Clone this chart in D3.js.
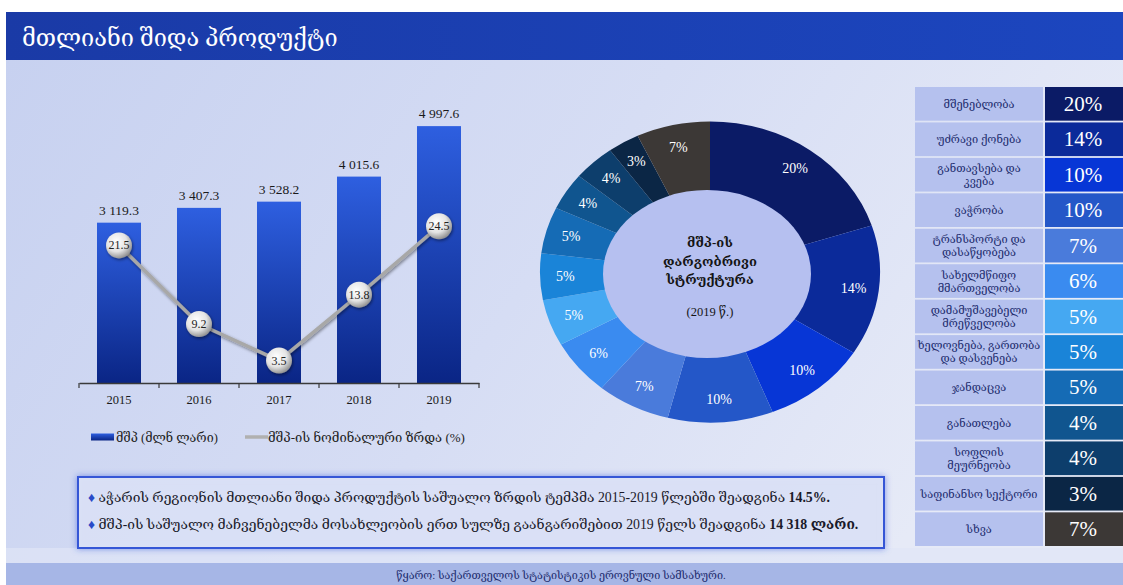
<!DOCTYPE html>
<html><head><meta charset="utf-8">
<script src="https://cdn.jsdelivr.net/npm/d3@7"></script>
<style>
html,body{margin:0;padding:0;background:#fff;}
svg{display:block;}
</style></head>
<body>
<script>
// ---- data ----
const title = "მთლიანი შიდა პროდუქტი";
const years = ["2015", "2016", "2017", "2018", "2019"];
const gdp = [3119.3, 3407.3, 3528.2, 4015.6, 4997.6];
const growth = [21.5, 9.2, 3.5, 13.8, 24.5];
const legendLabels = ["მშპ (მლნ ლარი)", "მშპ-ის ნომინალური ზრდა (%)"];
const sectors = [
  "მშენებლობა",
  "უძრავი ქონება",
  "განთავსება და\nკვება",
  "ვაჭრობა",
  "ტრანსპორტი და\nდასაწყობება",
  "სახელმწიფო\nმმართველობა",
  "დამამუშავებელი\nმრეწველობა",
  "ხელოვნება, გართობა\nდა დასვენება",
  "ჯანდაცვა",
  "განათლება",
  "სოფლის\nმეურნეობა",
  "საფინანსო სექტორი",
  "სხვა"
];
const shares = [20, 14, 10, 10, 7, 6, 5, 5, 5, 4, 4, 3, 7];
const donutTitle = ["მშპ-ის", "დარგობრივი", "სტრუქტურა"];
const donutYear = "(2019 წ.)";
const notes = [
  ["აჭარის რეგიონის მთლიანი შიდა პროდუქტის საშუალო ზრდის ტემპმა 2015-2019 წლებში შეადგინა ", "14.5%."],
  ["მშპ-ის საშუალო მაჩვენებელმა მოსახლეობის ერთ სულზე გაანგარიშებით 2019 წელს შეადგინა  ", "14 318 ლარი."]
];
const source = "წყარო: საქართველოს სტატისტიკის ეროვნული სამსახური.";

// ---- styles ----
const palette = ["#0b1b66","#0b2a9a","#0736d6","#2457c8","#4a7bdb","#3a8bf0","#45a8f2","#1a84d8","#156bb5","#10558f","#0d3e6c","#0b2645","#3c3836"];
const serif = "'Liberation Serif','DejaVu Serif',serif";

const W = 1123, H = 585;
const svg = d3.select("body").append("svg").attr("width", W).attr("height", H);
const defs = svg.append("defs");

const bg = defs.append("linearGradient").attr("id","bg").attr("x1","0").attr("x2","1").attr("y1","0").attr("y2","0.3");
bg.append("stop").attr("offset","0").attr("stop-color","#c7d1f0");
bg.append("stop").attr("offset","0.55").attr("stop-color","#d6ddf4");
bg.append("stop").attr("offset","1").attr("stop-color","#e6eaf7");

const tg = defs.append("linearGradient").attr("id","tg").attr("x1","0").attr("x2","1");
tg.append("stop").attr("offset","0").attr("stop-color","#1a3aa6");
tg.append("stop").attr("offset","1").attr("stop-color","#1c46bf");

const bar = defs.append("linearGradient").attr("id","barg").attr("x1","0").attr("x2","0").attr("y1","0").attr("y2","1");
bar.append("stop").attr("offset","0").attr("stop-color","#2e5fe0");
bar.append("stop").attr("offset","1").attr("stop-color","#0a2585");

const cg = defs.append("radialGradient").attr("id","cg").attr("cx","0.4").attr("cy","0.35").attr("r","0.65");
cg.append("stop").attr("offset","0").attr("stop-color","#ffffff");
cg.append("stop").attr("offset","0.6").attr("stop-color","#e4e4e4");
cg.append("stop").attr("offset","1").attr("stop-color","#959595");

const sh = defs.append("filter").attr("id","sh").attr("x","-50%").attr("y","-50%").attr("width","200%").attr("height","200%");
sh.append("feDropShadow").attr("dx",1).attr("dy",1.5).attr("stdDeviation",1.5).attr("flood-color","#000").attr("flood-opacity",0.45);

const glow = defs.append("filter").attr("id","glow").attr("x","-5%").attr("y","-20%").attr("width","110%").attr("height","140%");
glow.append("feDropShadow").attr("dx",0).attr("dy",0).attr("stdDeviation",3).attr("flood-color","#2a4fd8").attr("flood-opacity",0.6);

// background
svg.append("rect").attr("width",W).attr("height",H).attr("fill","#ffffff");
svg.append("rect").attr("x",6).attr("y",60).attr("width",W-6).attr("height",503).attr("fill","url(#bg)");
svg.append("rect").attr("x",6).attr("y",548).attr("width",W-6).attr("height",15).attr("fill","#dfe5f6").attr("opacity",0.7);
svg.append("rect").attr("x",6).attr("y",563).attr("width",W-6).attr("height",22).attr("fill","#a6b6e6");

// title bar
svg.append("rect").attr("x",6).attr("y",12).attr("width",W-6).attr("height",48).attr("fill","url(#tg)");
svg.append("text").attr("x",22).attr("y",46).attr("fill","#fff")
  .style("font-family",serif).style("font-size","23.5px").text(title);

// ---- bar chart ----
const baseY = 383;
const x = d3.scaleBand().domain(years).range([79, 479]).paddingInner(0.45).paddingOuter(0.225);
const y = d3.scaleLinear().domain([0, 5000]).range([baseY, 126]);
const y2 = d3.scaleLinear().domain([0, 40]).range([baseY, 127]);
const fmt = d3.formatLocale({decimal:".", thousands:" ", grouping:[3], currency:["",""]}).format(",.1f");

const g = svg.append("g");
g.selectAll("rect.bar").data(gdp).join("rect").attr("class","bar")
  .attr("x",(d,i)=>x(years[i])).attr("width",x.bandwidth())
  .attr("y",d=>y(d)).attr("height",d=>baseY-y(d)).attr("fill","url(#barg)");
g.selectAll("text.bv").data(gdp).join("text").attr("class","bv")
  .attr("x",(d,i)=>x(years[i])+x.bandwidth()/2).attr("y",d=>y(d)-8)
  .attr("text-anchor","middle").attr("fill","#1a1a1a")
  .style("font-family",serif).style("font-size","13.5px").text(d=>fmt(d));

// axis
const axis = d3.axisBottom(x).tickSize(0).tickPadding(12);
const ax = g.append("g").attr("transform",`translate(0,${baseY})`).call(axis);
ax.select(".domain").attr("stroke","#3a3a3a").attr("stroke-width",1.5);
ax.selectAll("text").style("font-family",serif).style("font-size","12.5px").attr("fill","#1a1a1a");
const step = x.step();
const bounds = years.map(yv => x(yv) - step*x.paddingInner()/2).concat([x(years[years.length-1]) + x.bandwidth() + step*x.paddingInner()/2]);
g.selectAll("line.tk").data(bounds).join("line").attr("class","tk")
  .attr("x1",d=>d).attr("x2",d=>d).attr("y1",baseY).attr("y2",baseY+5)
  .attr("stroke","#3a3a3a").attr("stroke-width",1.2);

// growth line
const line = d3.line().x((d,i)=>x(years[i])+x.bandwidth()/2).y(d=>y2(d));
g.append("path").datum(growth).attr("d",line).attr("fill","none")
  .attr("stroke","#a8a8a8").attr("stroke-width",3.5).attr("filter","url(#sh)");
g.selectAll("circle.pt").data(growth).join("circle").attr("class","pt")
  .attr("cx",(d,i)=>x(years[i])+x.bandwidth()/2).attr("cy",d=>y2(d)).attr("r",13)
  .attr("fill","url(#cg)").attr("filter","url(#sh)");
g.selectAll("text.pv").data(growth).join("text").attr("class","pv")
  .attr("x",(d,i)=>x(years[i])+x.bandwidth()/2).attr("y",d=>y2(d)+4)
  .attr("text-anchor","middle").attr("fill","#222")
  .style("font-family",serif).style("font-size","12px").text(d=>d3.format(".1f")(d));

// legend
const lg = svg.append("g").attr("transform","translate(91,437)");
lg.append("rect").attr("x",0).attr("y",-3.5).attr("width",23).attr("height",7).attr("fill","url(#barg)");
lg.append("text").attr("x",25).attr("y",4.5).style("font-family",serif).style("font-size","12.5px").attr("fill","#222").text(legendLabels[0]);
lg.append("line").attr("x1",154).attr("x2",177).attr("y1",0).attr("y2",0).attr("stroke","#b0b0b0").attr("stroke-width",3.5);
lg.append("text").attr("x",177).attr("y",4.5).style("font-family",serif).style("font-size","13px").attr("fill","#222").text(legendLabels[1]);

// ---- donut ----
const cx = 710, cy = 272, sx = 1.13;
const pie = d3.pie().sort(null).value(d=>d)(shares);
const arc = d3.arc().innerRadius(80).outerRadius(150.5);
const dg = svg.append("g").attr("transform",`translate(${cx},${cy}) scale(${sx},1)`);
dg.selectAll("path").data(pie).join("path").attr("d",arc).attr("fill",(d,i)=>palette[i]);
svg.append("ellipse").attr("cx",707).attr("cy",274).attr("rx",104).attr("ry",84).attr("fill","#b6c0f0");
const lab = d3.arc().innerRadius(128).outerRadius(128);
svg.selectAll("text.dl").data(pie).join("text").attr("class","dl")
  .attr("x",d=>cx + lab.centroid(d)[0]*sx).attr("y",d=>cy + lab.centroid(d)[1]+4.5)
  .attr("text-anchor","middle").attr("fill","#fff")
  .style("font-family",serif).style("font-size","14px").text(d=>d.data+"%");
svg.selectAll("text.dt").data(donutTitle).join("text").attr("class","dt")
  .attr("x",710).attr("y",(d,i)=>247+i*18.5).attr("text-anchor","middle").attr("fill","#151515")
  .style("font-family",serif).style("font-size","13px").style("font-weight","bold").text(d=>d);
svg.append("text").attr("x",710).attr("y",316).attr("text-anchor","middle").attr("fill","#151515")
  .style("font-family",serif).style("font-size","12.5px").text(donutYear);

// ---- table ----
const rowY = d3.scaleBand().domain(d3.range(sectors.length)).range([87, 546]).paddingInner(0.05);
const tb = svg.append("g");
tb.selectAll("rect.lc").data(sectors).join("rect").attr("class","lc")
  .attr("x",915).attr("width",128).attr("y",(d,i)=>rowY(i)).attr("height",rowY.bandwidth()).attr("fill","#b5c1ee");
tb.selectAll("rect.rc").data(shares).join("rect").attr("class","rc")
  .attr("x",1045).attr("width",78).attr("y",(d,i)=>rowY(i)).attr("height",rowY.bandwidth()).attr("fill",(d,i)=>palette[i]);
tb.selectAll("text.rv").data(shares).join("text").attr("class","rv")
  .attr("x",1083).attr("y",(d,i)=>rowY(i)+rowY.bandwidth()/2+7).attr("text-anchor","middle").attr("fill","#fff")
  .style("font-family",serif).style("font-size","21px").text(d=>d+"%");
tb.selectAll("text.ln").data(sectors).join("text").attr("class","ln")
  .attr("text-anchor","middle").attr("fill","#1e2d6e")
  .style("font-family",serif).style("font-size","11px")
  .each(function(d,i){
    const parts = d.split("\n");
    const mid = rowY(i)+rowY.bandwidth()/2;
    const t = d3.select(this);
    parts.forEach((p,k)=>{
      t.append("tspan").attr("x",979).attr("y", mid + 4 + (k-(parts.length-1)/2)*13).text(p);
    });
  });

// ---- notes box ----
svg.append("rect").attr("x",78).attr("y",477).attr("width",806).attr("height",71)
  .attr("fill","#e2e7f8").attr("fill-opacity",0.85).attr("stroke","#3556d6").attr("stroke-width",2).attr("filter","url(#glow)");
notes.forEach((n,i)=>{
  const t = svg.append("text").attr("x",88).attr("y",502+i*27).attr("fill","#1a1a2a")
    .style("font-family",serif).style("font-size","13.8px");
  t.append("tspan").attr("fill","#2a4bc8").text("♦ ");
  t.append("tspan").text(n[0]);
  t.append("tspan").style("font-weight","bold").text(n[1]);
});

// footer
svg.append("text").attr("x",561).attr("y",579).attr("text-anchor","middle").attr("fill","#1e2d6e")
  .style("font-family",serif).style("font-size","10.8px").text(source);
</script>
</body></html>
